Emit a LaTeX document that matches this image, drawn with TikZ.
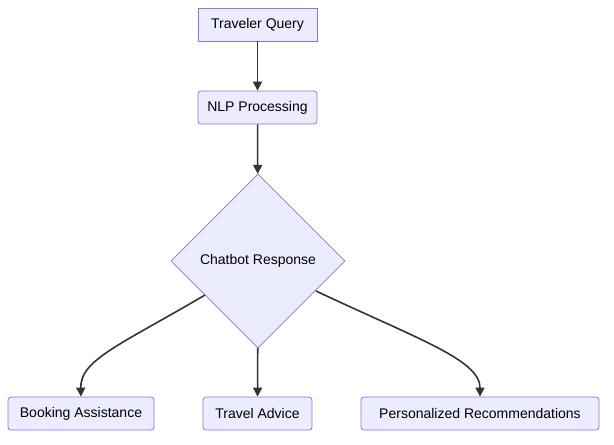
\documentclass[tikz,border=0pt]{standalone}
\usepackage{fontspec}
\setmainfont{Liberation Sans}
\usetikzlibrary{shapes.geometric,arrows.meta}
\begin{document}
\begin{tikzpicture}[x=1pt,y=-1pt,
  box/.style={draw=mmstroke,fill=mmfill,line width=0.8pt,minimum height=33pt,inner xsep=8pt,font=\fontsize{14}{16}\selectfont},
  rbox/.style={box,rounded corners=3pt},
  arr/.style={draw=mmline,line width=1.6pt,-{Triangle[length=9pt,width=9pt]}}]
\definecolor{mmfill}{HTML}{ECECFF}
\definecolor{mmstroke}{HTML}{9370DB}
\definecolor{mmline}{HTML}{333333}
\useasboundingbox (0,0) rectangle (614,445);
\node[box,minimum width=119pt] (q) at (257.5,24.5) {Traveler Query};
\node[rbox,minimum width=119pt] (n) at (257.5,107.5) {NLP Processing};
\node[diamond,draw=mmstroke,fill=mmfill,line width=0.8pt,minimum width=174pt,minimum height=174pt,inner sep=0pt,font=\fontsize{14}{16}\selectfont] (c) at (258,261) {Chatbot Response};
\node[rbox,minimum width=146pt] (b) at (81,413.5) {Booking Assistance};
\node[rbox,minimum width=109pt] (t) at (257.5,413.5) {Travel Advice};
\node[rbox,minimum width=238pt] (p) at (480,413.5) {Personalized Recommendations};
\draw[arr] (q) -- (n);
\draw[arr] (n) -- (c);
\draw[arr] (c) -- (t);
\coordinate (cl) at (205,295);
\coordinate (cr) at (316,291);
\draw[arr] (cl) .. controls (120,345) and (80,360) .. (b.north);
\draw[arr] (cr) .. controls (420,340) and (480,360) .. (p.north);
\end{tikzpicture}
\end{document}
